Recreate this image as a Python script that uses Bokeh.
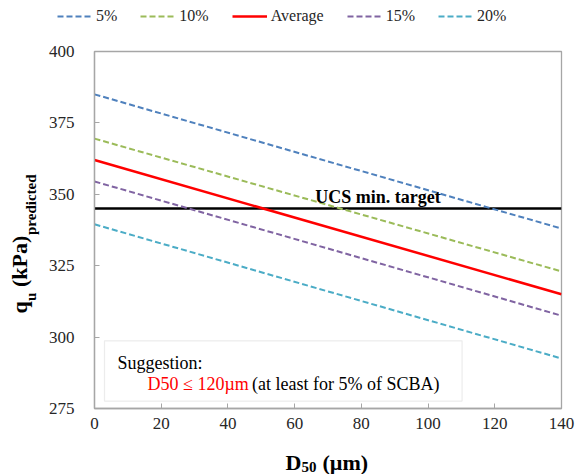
import math
from bokeh.plotting import figure
from bokeh.layouts import column, row
from bokeh.models import (ColumnDataSource, Legend, LegendItem, Label, BoxAnnotation,
                          FixedTicker, Range1d)
from bokeh.embed import file_html
from bokeh.resources import INLINE

# ---- data ----
d50 = [0, 140]
series_names = ["5%", "10%", "Average", "15%", "20%"]
q_5 = [385.0, 338.0]
q_10 = [369.5, 323.0]
q_avg = [362.0, 315.0]
q_15 = [354.5, 307.5]
q_20 = [339.5, 292.5]
ucs_target = 345.0
x_ticks = [0, 20, 40, 60, 80, 100, 120, 140]
y_ticks = [275, 300, 325, 350, 375, 400]

series_vals = [q_5, q_10, q_avg, q_15, q_20]
colors = ["#4f81bd", "#9bbb59", "#ff0000", "#8064a2", "#4bacc6"]
dashes = ["6 3", "6 3", "solid", "6 3", "6 3"]
widths = [2, 2, 2.5, 2, 2]

SERIF = "Liberation Serif"


def blank(w, h):
    f = figure(width=w, height=h, output_backend="svg", toolbar_location=None,
               x_axis_type=None, y_axis_type=None, x_range=Range1d(0, 1), y_range=Range1d(0, 1),
               min_border=0, min_border_left=0, min_border_right=0,
               min_border_top=0, min_border_bottom=0)
    f.outline_line_color = None
    f.background_fill_color = "white"
    f.border_fill_color = "white"
    f.xgrid.visible = False
    f.ygrid.visible = False
    return f


# ---------------- main chart ----------------
p = figure(width=541, height=399, output_backend="svg", toolbar_location=None,
           x_range=Range1d(0, 140), y_range=Range1d(275, 400),
           min_border_left=50, min_border_right=24, min_border_top=11, min_border_bottom=31)
p.background_fill_color = "white"
p.border_fill_color = "white"
p.outline_line_color = "#a6a6a6"
p.outline_line_width = 1.3
p.xgrid.visible = False
p.ygrid.visible = False

for ax, ticks in ((p.xaxis, x_ticks), (p.yaxis, y_ticks)):
    ax.ticker = FixedTicker(ticks=ticks)
    ax.axis_line_color = "#a6a6a6"
    ax.axis_line_width = 1.3
    ax.major_tick_line_color = "#a6a6a6"
    ax.major_tick_in = 5
    ax.major_tick_out = 0
    ax.minor_tick_line_color = None
    ax.major_label_text_font = SERIF
    ax.major_label_text_font_size = "17px"
    ax.major_label_text_color = "#262626"
p.yaxis.major_label_standoff = 20
p.xaxis.major_label_standoff = 9

p.line(x=d50, y=[ucs_target, ucs_target], line_color="black", line_width=2.5)

for name, vals, c, dsh, w in zip(series_names, series_vals, colors, dashes, widths):
    src = ColumnDataSource(dict(x=d50, y=vals))
    p.line("x", "y", source=src, line_color=c, line_dash=dsh, line_width=w)

p.add_layout(Label(x=85, y=349.0, text="UCS min. target", text_align="center",
                   text_baseline="alphabetic", text_font=SERIF, text_font_style="bold",
                   text_font_size="18px", text_color="black"))

p.add_layout(BoxAnnotation(left=3.0, right=110.2, bottom=277.6, top=298.7,
                           fill_color="white", fill_alpha=1.0,
                           line_color="#bfbfbf", line_width=1.2))
p.add_layout(Label(x=6.9, y=290.9, text="Suggestion:", text_font=SERIF,
                   text_font_size="18px", text_color="black", text_baseline="alphabetic"))
p.add_layout(Label(x=15.9, y=283.6, text="D50 \u2264 120\u00b5m", text_font=SERIF,
                   text_font_size="18px", text_color="#ff0000", text_baseline="alphabetic"))
p.add_layout(Label(x=47.2, y=283.6, text="(at least for 5% of SCBA)", text_font=SERIF,
                   text_font_size="18px", text_color="black", text_baseline="alphabetic"))

# ---------------- legend strip (same series, outside this strip's ranges) ----------------
lg = blank(585, 40)
items = []
for name, vals, c, dsh, w in zip(series_names, series_vals, colors, dashes, widths):
    r = lg.line(x=d50, y=vals, line_color=c, line_dash=dsh, line_width=w)
    items.append(LegendItem(label=name, renderers=[r]))
legend = Legend(items=items, orientation="horizontal", location=(57, 14),
                label_text_font=SERIF, label_text_font_size="16px", label_text_color="#262626",
                glyph_width=35, glyph_height=20, label_height=20, label_standoff=4,
                spacing=23, padding=0, margin=0, border_line_color=None,
                background_fill_alpha=0)
lg.add_layout(legend)


# ---------------- axis titles ----------------
def tl(f, x, y, text, size, angle=0.0):
    f.add_layout(Label(x=x, y=y, x_units="screen", y_units="screen", text=text,
                       text_font=SERIF, text_font_style="bold", text_font_size=size,
                       text_color="black", text_baseline="alphabetic", text_align="left",
                       angle=angle))

yt = blank(44, 399)
A = math.pi / 2
tl(yt, 19, 95, "q", "22px", A)
tl(yt, 30, 107.5, "u", "15px", A)
tl(yt, 19, 121.5, "(kPa)", "22px", A)
tl(yt, 30, 173.5, "predicted", "15px", A)

xt = blank(585, 35)
tl(xt, 285, 12, "D", "22px")
tl(xt, 301, 8, "50", "15px")
tl(xt, 322, 12, "(\u00b5m)", "22px")

layout = column(lg, row(yt, p, spacing=0), xt, spacing=0)

open("out.html", "w").write(file_html(layout, INLINE))
